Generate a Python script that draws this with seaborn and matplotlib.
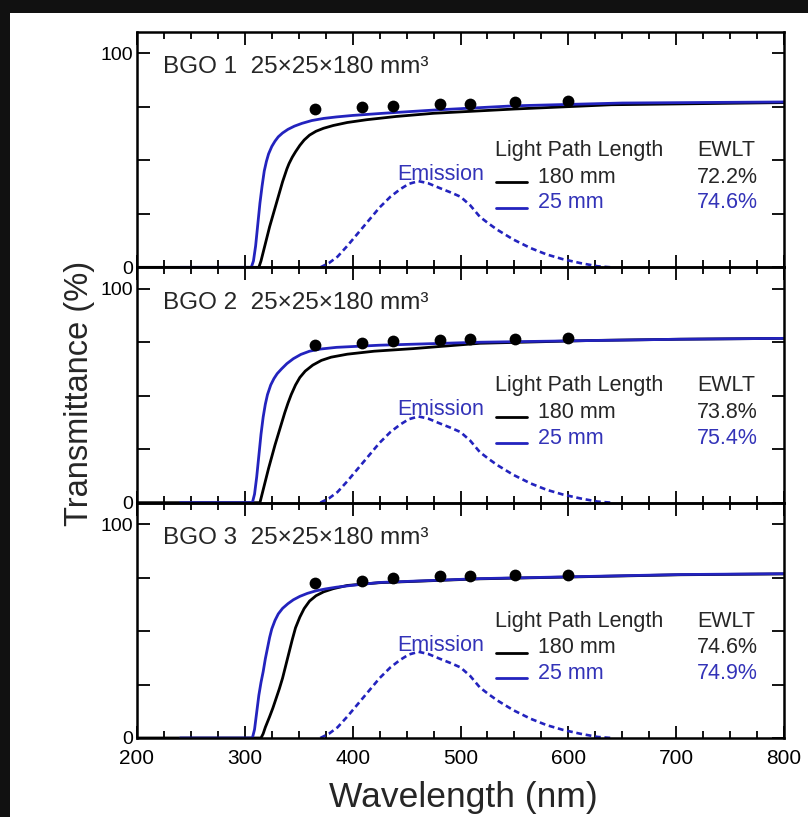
import numpy as np
import pandas as pd
import matplotlib
matplotlib.use("Agg")
import matplotlib.pyplot as plt
import seaborn as sns
from matplotlib.patches import Rectangle
from matplotlib.lines import Line2D
from matplotlib.ticker import MultipleLocator

sns.set_style("ticks")
plt.rcParams['font.family'] = ['Liberation Sans', 'DejaVu Sans']

# ---------------- data ----------------
panel_titles = ["BGO 1  25\u00d725\u00d7180 mm\u00b3", "BGO 2  25\u00d725\u00d7180 mm\u00b3", "BGO 3  25\u00d725\u00d7180 mm\u00b3"]
ewlt_180 = ["72.2%", "73.8%", "74.6%"]
ewlt_25 = ["74.6%", "75.4%", "74.9%"]

blue1_wl = [240, 306, 308, 310, 312, 314, 316, 318, 320, 322, 325, 328, 331, 335, 340, 346, 353, 362, 373, 385, 400, 428, 475, 550, 650, 800]
blue1_T = [0, 0, 3, 10, 20, 30, 38, 45, 49.5, 53, 56.5, 59, 61, 62.8, 64.5, 66, 67.3, 68.6, 69.6, 70.3, 71, 72, 73.5, 75.5, 76.8, 77.3]
black1_wl = [200, 313, 315, 317, 319, 321, 323, 325, 327, 329, 331, 333, 335, 337, 339, 341, 344, 347, 351, 355, 360, 366, 373, 382, 395, 413, 440, 475, 550, 640, 800]
black1_T = [0, 0, 3, 7, 11, 15, 19, 22.5, 26, 29.5, 33, 36.5, 40, 43, 46, 48.5, 51.5, 54, 57, 59.5, 61.8, 63.6, 65, 66.3, 67.7, 69, 70.5, 72, 74, 76, 77]

blue2_wl = [240, 307, 309, 311, 313, 315, 317, 319, 321, 324, 327, 330, 334, 339, 345, 352, 360, 370, 385, 425, 518, 704, 800]
blue2_T = [0, 0, 4, 12, 22, 32, 40, 46, 50.5, 55, 58, 60.3, 62.5, 65, 67.3, 69.3, 70.8, 71.8, 72.6, 73.6, 75, 76.4, 76.8]
black2_wl = [200, 314, 316, 318, 320, 322, 325, 328, 331, 334, 337, 340, 343, 347, 351, 356, 363, 371, 380, 395, 420, 456, 518, 620, 704, 800]
black2_T = [0, 0, 4, 8, 12, 16, 21.5, 27, 32, 37, 42, 46.5, 50.5, 55, 58.5, 61.5, 64.3, 66.5, 68, 69.4, 70.8, 72, 74.5, 75.8, 76.4, 76.8]

blue3_wl = [240, 307, 309, 311, 313, 315, 317, 319, 321, 323, 325, 328, 331, 335, 340, 345, 351, 358, 366, 375, 385, 400, 425, 518, 704, 800]
blue3_T = [0, 0, 4, 12, 20, 26, 31, 37, 42, 47, 51, 55, 58, 60.6, 62.8, 64.6, 66.2, 67.6, 68.8, 69.7, 70.5, 71.4, 72.7, 74.5, 76.4, 76.8]
black3_wl = [200, 315, 317, 319, 321, 323, 326, 329, 332, 335, 338, 341, 344, 347, 351, 355, 360, 366, 373, 382, 395, 425, 518, 704, 800]
black3_T = [0, 0, 2, 5, 7.5, 10, 14, 18.5, 23, 28, 34, 40, 46, 51.5, 56.5, 60.5, 64, 66.5, 68.3, 69.8, 71.3, 72.6, 74.4, 76.3, 76.7]

dots_wl = [365, 409, 437, 481, 509, 551, 600]
dots1 = [73.9, 75.0, 75.6, 76.3, 76.5, 77.3, 77.7]
dots2 = [73.5, 74.7, 75.4, 76.2, 76.3, 76.6, 77.0]
dots3 = [72.6, 73.6, 74.7, 75.5, 75.8, 76.2, 76.3]

em_wl = [370, 378, 386, 395, 405, 415, 425, 435, 444, 452, 461, 470, 481, 491, 500, 509, 518, 526, 534, 549, 565, 580, 595, 611, 627, 640]
em_T = [0, 2, 5, 10, 16, 22, 28, 33, 36.5, 39, 40.3, 39.3, 37, 35, 33, 29, 23.6, 20.5, 17.6, 13, 9, 6, 3.8, 2, 0.5, 0]

blues = [(blue1_wl, blue1_T), (blue2_wl, blue2_T), (blue3_wl, blue3_T)]
blacks = [(black1_wl, black1_T), (black2_wl, black2_T), (black3_wl, black3_T)]
dots = [dots1, dots2, dots3]

BLUE = '#2323be'
BLUE_TXT = '#3333b8'

# ---------------- figure ----------------
W, H = 808, 817
fig = plt.figure(figsize=(W / 100, H / 100), dpi=100)
fig.patch.set_facecolor('#111111')
fig.patches.append(Rectangle((10 / W, 0), 1, 1 - 13 / H, transform=fig.transFigure,
                             facecolor='white', edgecolor='none', zorder=-10))

left = 137 / W
width = (784 - 137) / W
top_px, bot_px = 32, 738
ph = (bot_px - top_px) / 3

axes = []
for i in range(3):
    b = 1 - (top_px + ph * (i + 1)) / H
    ax = fig.add_axes([left, b, width, ph / H])
    ax.set_facecolor('none')
    axes.append(ax)

for i, ax in enumerate(axes):
    em_df = pd.DataFrame({'wl': em_wl, 'T': em_T})
    sns.lineplot(data=em_df, x='wl', y='T', ax=ax, color=BLUE, lw=1.9,
                 linestyle=(0, (2.2, 1.4)), estimator=None, sort=False)
    bwl, bT = blacks[i]
    sns.lineplot(x=bwl, y=bT, ax=ax, color='black', lw=2.0, estimator=None, sort=False)
    uwl, uT = blues[i]
    sns.lineplot(x=uwl, y=uT, ax=ax, color=BLUE, lw=2.0, estimator=None, sort=False)
    sns.scatterplot(x=dots_wl, y=dots[i], ax=ax, color='black', s=72, edgecolor='black',
                    linewidth=0, zorder=5)

    ax.set_xlim(200, 800)
    ax.set_ylim(0, 110)
    ax.set_xlabel('')
    ax.set_ylabel('')
    ax.xaxis.set_major_locator(MultipleLocator(100))
    ax.xaxis.set_minor_locator(MultipleLocator(25))
    ax.set_yticks([0, 25, 50, 75, 100])
    ax.set_yticklabels(['0', '', '', '', '100'])
    ax.tick_params(axis='both', which='both', direction='in', top=True, right=True,
                   width=1.3, colors='black')
    ax.tick_params(axis='x', which='major', length=9, labelsize=15, pad=8)
    ax.tick_params(axis='x', which='minor', length=5)
    ax.tick_params(axis='y', which='major', length=9, labelsize=14, pad=3)
    if i < 2:
        ax.tick_params(axis='x', which='both', labelbottom=False)
    for sp in ax.spines.values():
        sp.set_linewidth(1.8)
        sp.set_color('black')

    tr = ax.transAxes
    ax.text(0.040, 0.824, panel_titles[i], transform=tr, fontsize=17.5, va='baseline', ha='left')
    ax.text(0.553, 0.473, "Light Path Length", transform=tr, fontsize=15.5, va='baseline', ha='left')
    ax.text(0.866, 0.473, "EWLT", transform=tr, fontsize=15.5, va='baseline', ha='left')
    ax.text(0.620, 0.360, "180 mm", transform=tr, fontsize=15.5, va='baseline', ha='left')
    ax.text(0.620, 0.251, "25 mm", transform=tr, fontsize=15.5, va='baseline', ha='left', color=BLUE_TXT)
    ax.text(0.866, 0.360, ewlt_180[i], transform=tr, fontsize=15.5, va='baseline', ha='left')
    ax.text(0.866, 0.251, ewlt_25[i], transform=tr, fontsize=15.5, va='baseline', ha='left', color=BLUE_TXT)
    ax.text(0.403, 0.371, "Emission", transform=tr, fontsize=15.5, va='baseline', ha='left', color=BLUE_TXT)
    ax.add_line(Line2D([0.555, 0.603], [0.362, 0.362], transform=tr, color='black', lw=2.0))
    ax.add_line(Line2D([0.555, 0.603], [0.253, 0.253], transform=tr, color=BLUE, lw=2.0))

fig.text(80 / W, 1 - 393 / H, "Transmittance (%)", rotation=90, fontsize=23.5,
         ha='center', va='center')
fig.text(463 / W, 1 - 797 / H, "Wavelength (nm)", fontsize=25.5, ha='center', va='center')

fig.savefig("out.png", dpi=100)
